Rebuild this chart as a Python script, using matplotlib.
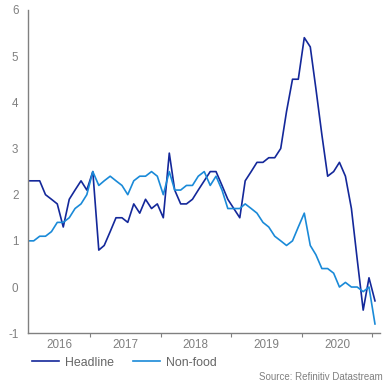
import numpy as np
import pandas as pd
import matplotlib
matplotlib.use("Agg")
import matplotlib.pyplot as plt
import matplotlib.dates as mdates

plt.rcParams['font.family'] = ['Liberation Sans', 'DejaVu Sans']
plt.rcParams['axes.unicode_minus'] = False

# monthly observations, Feb 2016 - Jan 2021 (mid-month)
dates = pd.date_range('2016-02-01', periods=60, freq='MS') + pd.Timedelta(days=14)

headline = [2.3, 2.3, 2.3, 2.0, 1.9, 1.8, 1.3, 1.9, 2.1, 2.3, 2.1, 2.5, 0.8, 0.9, 1.2, 1.5, 1.5,
            1.4, 1.8, 1.6, 1.9, 1.7, 1.8, 1.5, 2.9, 2.1, 1.8, 1.8, 1.9, 2.1, 2.3,
            2.5, 2.5, 2.2, 1.9, 1.7, 1.5, 2.3, 2.5, 2.7, 2.7, 2.8, 2.8, 3.0,
            3.8, 4.5, 4.5, 5.4, 5.2, 4.3, 3.3, 2.4, 2.5, 2.7, 2.4, 1.7, 0.6, -0.5, 0.2, -0.3]

nonfood = [1.0, 1.0, 1.1, 1.1, 1.2, 1.4, 1.4, 1.5, 1.7, 1.8, 2.0, 2.5, 2.2, 2.3, 2.4, 2.3, 2.2,
           2.0, 2.3, 2.4, 2.4, 2.5, 2.4, 2.0, 2.5, 2.1, 2.1, 2.2, 2.2, 2.4, 2.5,
           2.2, 2.4, 2.1, 1.7, 1.7, 1.7, 1.8, 1.7, 1.6, 1.4, 1.3, 1.1, 1.0,
           0.9, 1.0, 1.3, 1.6, 0.9, 0.7, 0.4, 0.4, 0.3, 0.0, 0.1, 0.0, 0.0, -0.1, 0.0, -0.8]

years = [2016, 2017, 2018, 2019, 2020]

grey = '#808080'
c_head = '#14289a'
c_nonfood = '#1a8ad8'

fig = plt.figure(figsize=(3.85, 3.83), dpi=100)
ax = fig.add_axes([0.073, 0.13, 0.914, 0.844])

ax.plot(dates, headline, color=c_head, lw=1.2, label='Headline')
ax.plot(dates, nonfood, color=c_nonfood, lw=1.2, label='Non-food')

x0 = dates[0]
x1 = dates[-1] + pd.Timedelta(days=26)
ax.set_xlim(x0, x1)
ax.set_ylim(-1, 6)
ax.set_yticks(range(-1, 7))

# year boundaries as ticks, year names centred in between
ax.xaxis.set_major_locator(mdates.YearLocator())
ax.xaxis.set_major_formatter(plt.NullFormatter())
mids = []
for y in years:
    a = max(pd.Timestamp(f'{y}-01-01'), x0)
    b = pd.Timestamp(f'{y + 1}-01-01')
    mids.append(a + (b - a) / 2)
ax.set_xticks(mdates.date2num(mids), minor=True)
ax.set_xticklabels([str(y) for y in years], minor=True)
ax.tick_params(axis='x', which='major', length=3, width=0.8, color=grey, direction='out')
ax.tick_params(axis='x', which='minor', length=0, pad=4.5, labelsize=8.4, labelcolor=grey)
ax.tick_params(axis='y', length=0, pad=7, labelsize=8.4, labelcolor=grey)

for s in ['top', 'right']:
    ax.spines[s].set_visible(False)
for s in ['left', 'bottom']:
    ax.spines[s].set_color(grey)
    ax.spines[s].set_linewidth(1.0)

fig.legend(loc='center left', bbox_to_anchor=(0.083, 0.053), ncol=2, frameon=False,
           fontsize=8.9, labelcolor='#666666', handlelength=2.2, handletextpad=0.45,
           columnspacing=1.55, borderpad=0, borderaxespad=0)

fig.text(383 / 385, 1 - 376.5 / 383, 'Source: Refinitiv Datastream', fontsize=7.0,
         color=grey, ha='right', va='center')

fig.savefig('out.png', dpi=100)
